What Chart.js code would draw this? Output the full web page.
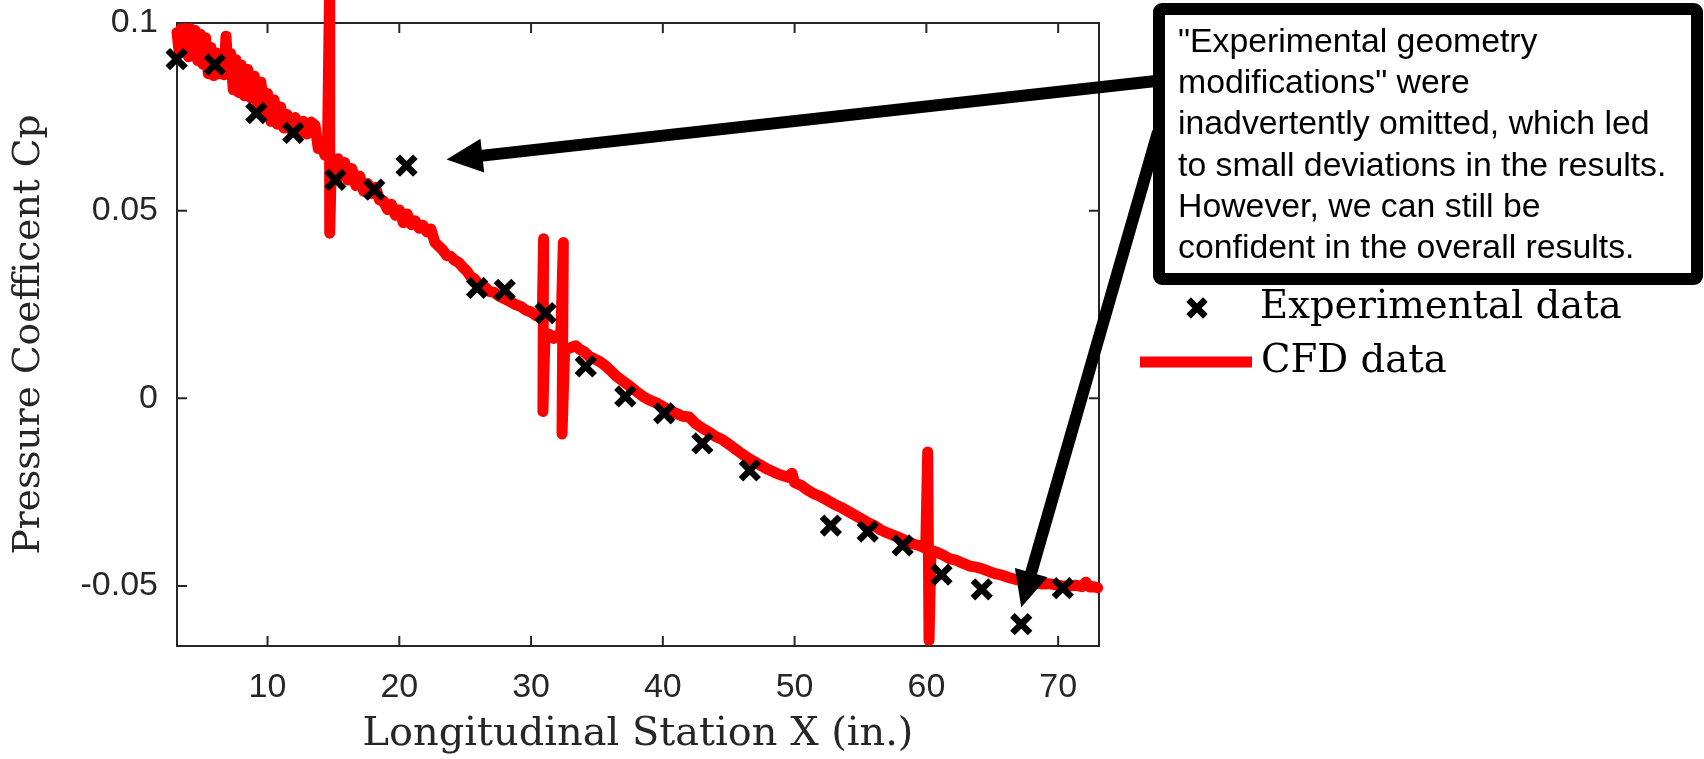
<!DOCTYPE html>
<html>
<head>
<meta charset="utf-8">
<script src="https://cdn.jsdelivr.net/npm/chart.js@4.4.1/dist/chart.umd.min.js"></script>
<style>
  html, body { margin: 0; padding: 0; background: #ffffff; }
  #wrap { width: 1704px; height: 759px; position: relative; }
</style>
</head>
<body>
<div id="wrap"><canvas id="c"></canvas></div>
<script>
// Wind-tunnel pressure taps along the body
const expX = [3.1, 6.0, 9.15, 11.95, 15.15, 18.1, 20.55, 25.9, 28.0, 31.1, 34.15,
  37.15, 40.1, 43.0, 46.6, 52.75, 55.55, 58.2, 61.15, 64.2, 67.2, 70.35];
const expY = [0.0904, 0.0889, 0.0760, 0.0707, 0.0582, 0.0556, 0.0620, 0.0294, 0.0289, 0.0227, 0.0085,
  0.0005, -0.0040, -0.0120, -0.0192, -0.0339, -0.0355, -0.0392, -0.0470, -0.0509, -0.0602, -0.0506];

// CFD surface extraction along the same line
const cfdX = [3.13, 3.30, 3.45, 3.60, 3.80, 4.00, 4.15, 4.35, 4.50, 4.70, 4.90, 5.10, 5.30, 5.50, 5.70,
  5.90, 6.10, 6.30, 6.50, 6.70, 6.85, 7.00, 7.20, 7.40, 7.60, 7.80, 8.00, 8.25, 8.50, 8.75,
  9.00, 9.25, 9.50, 9.75, 10.00, 10.25, 10.50, 10.75, 11.00, 11.25, 11.50, 11.80, 12.10, 12.40, 12.70,
  13.00, 13.30, 13.60, 13.85, 14.10, 14.35, 14.55, 14.70, 14.72, 14.85, 15.10, 15.35, 15.60, 15.85, 16.10,
  16.40, 16.70, 17.00, 17.30, 17.60, 17.90, 18.20, 18.50, 18.80, 19.10, 19.40, 19.70, 20.00, 20.30, 20.60,
  20.90, 21.20, 21.50, 21.80, 22.10, 22.40, 22.70, 23.00, 23.30, 23.60, 23.90, 24.20, 24.50, 24.80, 25.10,
  25.40, 25.70, 26.00, 26.40, 26.80, 27.20, 27.60, 28.00, 28.40, 28.80, 29.20, 29.60, 30.00, 30.40, 30.85,
  30.95, 30.90, 31.05, 31.40, 31.70, 32.00, 32.25, 32.45, 32.35, 32.55, 33.00, 33.40, 33.70, 34.00, 34.40,
  34.80, 35.20, 35.60, 36.00, 36.50, 37.00, 37.50, 38.00, 38.50, 39.00, 39.50, 40.00, 40.50, 41.00, 41.50,
  42.00, 42.50, 43.00, 43.50, 44.00, 44.50, 45.00, 45.50, 46.00, 46.50, 47.00, 47.50, 48.00, 48.50, 49.00,
  49.50, 49.80, 50.00, 50.50, 51.00, 51.50, 52.00, 52.50, 53.00, 53.50, 54.00, 54.50, 55.00, 55.50, 56.00,
  56.50, 57.00, 57.50, 58.00, 58.50, 59.00, 59.50, 59.95, 60.10, 60.20, 60.35, 60.80, 61.30, 61.80, 62.30,
  62.80, 63.30, 63.80, 64.30, 64.80, 65.30, 65.80, 66.30, 66.80, 67.30, 67.80, 68.30, 68.80, 69.30, 69.80,
  70.30, 70.80, 71.30, 71.80, 72.10, 72.40, 72.70, 73.00];
const cfdY = [0.0975, 0.0920, 0.0985, 0.0925, 0.0985, 0.0910, 0.0985, 0.0930, 0.0980, 0.0900, 0.0970, 0.0890, 0.0960, 0.0865, 0.0935,
  0.0860, 0.0920, 0.0865, 0.0905, 0.0862, 0.0965, 0.0868, 0.0918, 0.0822, 0.0902, 0.0815, 0.0888, 0.0806, 0.0876, 0.0800,
  0.0858, 0.0785, 0.0842, 0.0760, 0.0812, 0.0738, 0.0795, 0.0730, 0.0776, 0.0720, 0.0756, 0.0715, 0.0748, 0.0706, 0.0738,
  0.0704, 0.0736, 0.0728, 0.0665, 0.0680, 0.0648, 0.0665, 0.1070, 0.0440, 0.0640, 0.0608, 0.0638, 0.0592, 0.0628, 0.0582,
  0.0612, 0.0567, 0.0592, 0.0552, 0.0572, 0.0546, 0.0562, 0.0528, 0.0526, 0.0503, 0.0517, 0.0488, 0.0502, 0.0468, 0.0491,
  0.0463, 0.0473, 0.0453, 0.0461, 0.0443, 0.0451, 0.0415, 0.0405, 0.0395, 0.0380, 0.0378, 0.0368, 0.0362, 0.0350, 0.0340,
  0.0325, 0.0318, 0.0305, 0.0300, 0.0285, 0.0282, 0.0272, 0.0265, 0.0258, 0.0250, 0.0245, 0.0235, 0.0230, 0.0220, 0.0215,
  0.0425, -0.0035, 0.0160, 0.0170, 0.0160, 0.0168, 0.0158, 0.0415, -0.0095, 0.0130, 0.0135, 0.0140, 0.0130, 0.0125, 0.0112,
  0.0105, 0.0098, 0.0088, 0.0075, 0.0058, 0.0045, 0.0032, 0.0018, 0.0005, -0.0005, -0.0012, -0.0022, -0.0032, -0.0040, -0.0048,
  -0.0050, -0.0068, -0.0080, -0.0090, -0.0102, -0.0110, -0.0122, -0.0135, -0.0148, -0.0160, -0.0170, -0.0180, -0.0190, -0.0198, -0.0205,
  -0.0210, -0.0200, -0.0225, -0.0232, -0.0245, -0.0255, -0.0262, -0.0272, -0.0282, -0.0290, -0.0300, -0.0310, -0.0320, -0.0330, -0.0338,
  -0.0350, -0.0358, -0.0365, -0.0372, -0.0380, -0.0388, -0.0393, -0.0400, -0.0143, -0.0645, -0.0405, -0.0410, -0.0418, -0.0428, -0.0432,
  -0.0440, -0.0447, -0.0450, -0.0455, -0.0462, -0.0468, -0.0472, -0.0478, -0.0483, -0.0486, -0.0488, -0.0492, -0.0495, -0.0494, -0.0497,
  -0.0500, -0.0500, -0.0498, -0.0502, -0.0490, -0.0503, -0.0502, -0.0505];

const xTicks = [10, 20, 30, 40, 50, 60, 70];
const xTickLabels = ['10', '20', '30', '40', '50', '60', '70'];
const yTicks = [-0.05, 0, 0.05, 0.1];
const yTickLabels = ['-0.05', '0', '0.05', '0.1'];
const xRange = [3.13, 73.1];
const yRange = [-0.066, 0.1];

const seriesNames = ['Experimental data', 'CFD data'];
const xTitle = 'Longitudinal Station X (in.)';
const yTitle = 'Pressure Coefficent Cp';
const noteLines = [
  '"Experimental geometry',
  'modifications" were',
  'inadvertently omitted, which led',
  'to small deviations in the results.',
  'However, we can still be',
  'confident in the overall results.'
];
// the two flagged stations the note points to
const flagged = [[20.55, 0.0620], [67.2, -0.0602]];

const SANS = '"Liberation Sans", Arial, Helvetica, sans-serif';
const SERIF = '"DejaVu Serif", serif';
const AXIS_COLOR = '#262626';

// size a font so a string spans a given width
const measureCtx = document.createElement('canvas').getContext('2d');
function fitSize(text, family, width) {
  measureCtx.font = '100px ' + family;
  return 100 * width / measureCtx.measureText(text).width;
}
const xTitleSize = fitSize(xTitle, SERIF, 551);
const yTitleSize = fitSize(yTitle, SERIF, 440);
const legendSize = fitSize(seriesNames[0], SERIF, 362);
const noteSize = fitSize(noteLines[3], SANS, 489);

function drawCross(ctx, cx, cy, r) {
  const d = r * Math.SQRT1_2;
  ctx.beginPath();
  ctx.moveTo(cx - d, cy - d); ctx.lineTo(cx + d, cy + d);
  ctx.moveTo(cx - d, cy + d); ctx.lineTo(cx + d, cy - d);
  ctx.stroke();
}

function drawArrow(ctx, x0, y0, x1, y1, width, headLen, headHalf) {
  const dx = x1 - x0, dy = y1 - y0, L = Math.hypot(dx, dy);
  const ux = dx / L, uy = dy / L, nx = -uy, ny = ux;
  const bx = x1 - ux * headLen, by = y1 - uy * headLen;
  ctx.lineWidth = width;
  ctx.lineCap = 'butt';
  ctx.beginPath();
  ctx.moveTo(x0, y0); ctx.lineTo(bx + ux * 2, by + uy * 2);
  ctx.stroke();
  ctx.beginPath();
  ctx.moveTo(x1, y1);
  ctx.lineTo(bx + nx * headHalf, by + ny * headHalf);
  ctx.lineTo(bx - nx * headHalf, by - ny * headHalf);
  ctx.closePath();
  ctx.fill();
}

// axes box with inward ticks on all four sides
const axesBox = {
  id: 'axesBox',
  beforeDatasetsDraw(chart) {
    const { ctx, chartArea: a, scales: { x, y } } = chart;
    ctx.save();
    ctx.strokeStyle = AXIS_COLOR;
    ctx.lineWidth = 2;
    ctx.strokeRect(a.left, a.top, a.right - a.left, a.bottom - a.top);
    const tl = 10;
    ctx.beginPath();
    xTicks.forEach(v => {
      const px = x.getPixelForValue(v);
      ctx.moveTo(px, a.bottom); ctx.lineTo(px, a.bottom - tl);
      ctx.moveTo(px, a.top); ctx.lineTo(px, a.top + tl);
    });
    yTicks.forEach(v => {
      const py = y.getPixelForValue(v);
      ctx.moveTo(a.left, py); ctx.lineTo(a.left + tl, py);
      ctx.moveTo(a.right, py); ctx.lineTo(a.right - tl, py);
    });
    ctx.stroke();
    ctx.restore();
  }
};

// legend, callout box and arrows
const overlay = {
  id: 'overlay',
  afterDraw(chart) {
    const { ctx, scales: { x, y } } = chart;
    const ds = chart.data.datasets;
    ctx.save();

    // legend
    ctx.strokeStyle = ds[0].borderColor;
    ctx.lineWidth = ds[0].pointBorderWidth;
    drawCross(ctx, 1197, 308, ds[0].pointRadius * 0.95);
    ctx.strokeStyle = ds[1].borderColor;
    ctx.lineWidth = 11;
    ctx.lineCap = 'butt';
    ctx.beginPath(); ctx.moveTo(1140, 362); ctx.lineTo(1252, 362); ctx.stroke();
    ctx.fillStyle = '#000';
    ctx.font = legendSize.toFixed(1) + 'px ' + SERIF;
    ctx.textBaseline = 'alphabetic';
    ctx.textAlign = 'left';
    ctx.fillText(seriesNames[0], 1260, 318);
    ctx.fillText(seriesNames[1], 1261, 372);

    // arrows to the flagged stations
    ctx.strokeStyle = '#000';
    ctx.fillStyle = '#000';
    const t1x = x.getPixelForValue(flagged[0][0]) + 40;
    const t1y = y.getPixelForValue(flagged[0][1]) - 6;
    drawArrow(ctx, 1165, 80, t1x, t1y, 12, 36, 17);
    const t2x = x.getPixelForValue(flagged[1][0]);
    const t2y = y.getPixelForValue(flagged[1][1]) - 17;
    drawArrow(ctx, 1158, 132, t2x, t2y, 12, 36, 17);

    // callout box
    ctx.fillStyle = '#fff';
    ctx.fillRect(1159, 9, 538, 270);
    ctx.strokeStyle = '#000';
    ctx.lineWidth = 12;
    ctx.lineJoin = 'round';
    ctx.beginPath();
    if (ctx.roundRect) ctx.roundRect(1159, 9, 538, 270, 3); else ctx.rect(1159, 9, 538, 270);
    ctx.stroke();
    ctx.fillStyle = '#000';
    ctx.font = noteSize.toFixed(1) + 'px ' + SANS;
    noteLines.forEach((line, i) => ctx.fillText(line, 1178, 52 + i * 41.2));

    ctx.restore();
  }
};

new Chart(document.getElementById('c'), {
  type: 'scatter',
  data: {
    datasets: [
      {
        label: seriesNames[0],
        data: expX.map((v, i) => ({ x: v, y: expY[i] })),
        pointStyle: 'crossRot',
        pointRadius: 12.5,
        pointBorderWidth: 6.5,
        borderWidth: 6.5,
        borderColor: '#000000',
        backgroundColor: '#000000',
        showLine: false,
        clip: false
      },
      {
        label: seriesNames[1],
        data: cfdX.map((v, i) => ({ x: v, y: cfdY[i] })),
        showLine: true,
        pointRadius: 0,
        borderColor: '#ff0000',
        backgroundColor: '#ff0000',
        borderWidth: 11,
        borderCapStyle: 'round',
        borderJoinStyle: 'round',
        tension: 0,
        fill: false,
        clip: false
      }
    ]
  },
  options: {
    responsive: true,
    maintainAspectRatio: false,
    animation: false,
    events: [],
    layout: { padding: { left: 0, right: 605, top: 23, bottom: 0 } },
    plugins: { legend: { display: false }, tooltip: { enabled: false }, title: { display: false } },
    scales: {
      x: {
        type: 'linear',
        min: xRange[0],
        max: xRange[1],
        afterBuildTicks: s => { s.ticks = xTicks.map(v => ({ value: v })); },
        afterFit: s => { s.height = 113; s.paddingLeft = 0; s.paddingRight = 0; },
        ticks: {
          callback: (v, i) => xTickLabels[i],
          font: { family: SANS, size: 34 },
          color: AXIS_COLOR,
          padding: 21,
          maxRotation: 0,
          autoSkip: false
        },
        grid: { display: false, drawTicks: false },
        border: { display: false },
        title: {
          display: true,
          text: xTitle,
          font: { family: SERIF, size: xTitleSize },
          color: AXIS_COLOR,
          padding: { top: 0, bottom: 0 }
        }
      },
      y: {
        type: 'linear',
        min: yRange[0],
        max: yRange[1],
        afterBuildTicks: s => { s.ticks = yTicks.map(v => ({ value: v })); },
        afterFit: s => { s.width = 177; s.paddingTop = 0; s.paddingBottom = 0; },
        ticks: {
          callback: (v, i) => yTickLabels[i],
          font: { family: SANS, size: 34 },
          color: AXIS_COLOR,
          padding: 19,
          autoSkip: false
        },
        grid: { display: false, drawTicks: false },
        border: { display: false },
        title: {
          display: true,
          text: yTitle,
          font: { family: SERIF, size: yTitleSize },
          color: AXIS_COLOR,
          padding: { top: 7, bottom: 0 }
        }
      }
    }
  },
  plugins: [axesBox, overlay]
});
</script>
</body>
</html>
